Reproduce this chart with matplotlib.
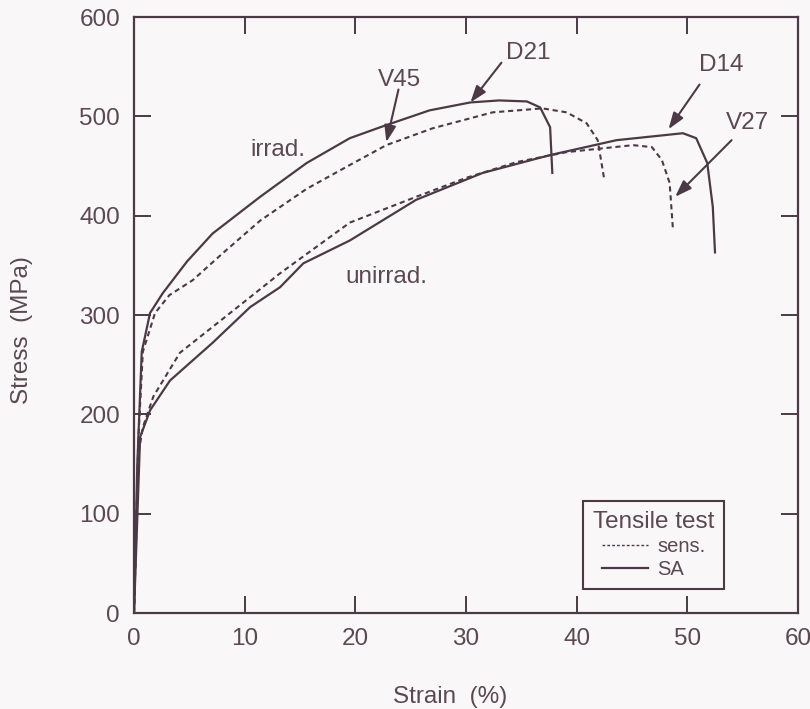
import matplotlib
matplotlib.use("Agg")
import matplotlib.pyplot as plt
from matplotlib.lines import Line2D

plt.rcParams['font.family'] = ['Liberation Sans', 'DejaVu Sans']

# stress-strain curves, strain in %, stress in MPa
# irradiated, SA (D21)
irr_sa_x = [0, 0.3, 0.7, 1.45, 2.6, 4.8, 7.1, 11.4, 15.6, 19.5, 22.5, 26.7, 30.4, 33.0, 35.5, 36.7, 37.6, 37.8]
irr_sa_y = [0, 150, 263, 302, 322, 354, 382, 419, 453, 478, 490, 506, 514, 516, 515, 509, 489, 443]
# irradiated, sensitized (V45)
irr_sens_x = [0, 0.4, 0.8, 1.9, 3.2, 5.3, 8.0, 11.4, 15.6, 19.5, 22.8, 27.0, 32.4, 36.9, 39.1, 40.9, 41.9, 42.5]
irr_sens_y = [0, 177, 263, 302, 320, 335, 362, 395, 427, 451, 471, 488, 504, 508, 504, 493, 476, 436]
# unirradiated, sensitized (V27)
unirr_sens_x = [0, 0.4, 0.8, 1.75, 4.15, 7.1, 10.5, 13.2, 19.5, 25.5, 30.0, 34.6, 39.1, 45.1, 46.8, 47.7, 48.4, 48.7]
unirr_sens_y = [0, 160, 187, 218, 262, 288, 318, 342, 393, 419, 438, 454, 464, 471, 469, 456, 433, 386]
# unirradiated, SA (D14)
unirr_sa_x = [0, 0.55, 1.45, 3.25, 7.1, 10.5, 13.2, 15.3, 19.5, 25.5, 31.5, 37.6, 43.6, 49.6, 50.8, 51.8, 52.3, 52.5]
unirr_sa_y = [0, 177, 204, 234, 272, 308, 328, 352, 375, 416, 443, 461, 476, 483, 478, 453, 409, 363]

# specimen labels: text position, arrow tail, arrow head
spec_names = ['D21', 'V45', 'D14', 'V27']
spec_text = [(35.6, 564), (24.0, 537), (53.1, 552), (55.4, 493)]
spec_tail = [(33.2, 554), (23.9, 527), (51.1, 532), (54.0, 476)]
spec_head = [(30.4, 514), (22.8, 474), (48.3, 487), (48.9, 419)]

x_ticks = [0, 10, 20, 30, 40, 50, 60]
y_ticks = [0, 100, 200, 300, 400, 500, 600]

ink = '#4b3a45'
txt = '#5a4852'
bg = '#faf7f9'
dash = (0, (2.5, 1.8))
fs = 17.5

fig = plt.figure(figsize=(8.10, 7.09), dpi=100, facecolor=bg)
ax = fig.add_axes([134/810, 1-613/709, 664/810, 596/709], facecolor=bg)

ax.plot(irr_sa_x, irr_sa_y, color=ink, lw=1.6)
ax.plot(irr_sens_x, irr_sens_y, color=ink, lw=1.5, ls=dash)
ax.plot(unirr_sens_x, unirr_sens_y, color=ink, lw=1.5, ls=dash)
ax.plot(unirr_sa_x, unirr_sa_y, color=ink, lw=1.6)

for name, t, a, b in zip(spec_names, spec_text, spec_tail, spec_head):
    ax.text(t[0], t[1], name, ha='center', va='center', fontsize=fs, color=txt)
    ax.annotate('', xy=b, xytext=a,
                arrowprops=dict(arrowstyle='-|>,head_length=1.0,head_width=0.35',
                                color=ink, lw=1.5, shrinkA=0, shrinkB=0))

ax.text(13.0, 466, 'irrad.', ha='center', va='center', fontsize=fs, color=txt)
ax.text(22.8, 338, 'unirrad.', ha='center', va='center', fontsize=fs, color=txt)

ax.set_xlim(0, 60)
ax.set_ylim(0, 600)
ax.set_xticks(x_ticks)
ax.set_yticks(y_ticks)
ax.tick_params(direction='in', length=12, width=1.4, colors=ink, labelcolor=txt,
               labelsize=fs, top=True, right=True)
ax.tick_params(axis='x', pad=11)
ax.tick_params(axis='y', pad=10)
for s in ax.spines.values():
    s.set_color(ink)
    s.set_linewidth(1.6)

handles = [Line2D([], [], color=ink, lw=1.0, ls=(0, (2, 1.5))),
           Line2D([], [], color=ink, lw=1.6)]
leg = ax.legend(handles, ['sens.', 'SA'], title='Tensile test', loc='lower left',
                bbox_to_anchor=(0.676, 0.040), fontsize=14.5, title_fontsize=fs,
                alignment='center', frameon=True, fancybox=False, edgecolor=ink,
                facecolor=bg, framealpha=1, handlelength=2.3, handletextpad=0.45,
                borderpad=0.5, labelspacing=0.2, borderaxespad=0)
leg.get_frame().set_linewidth(1.5)
leg.get_title().set_color(txt)
for t in leg.get_texts():
    t.set_color(txt)

fig.text(450/810, 1-697/709, 'Strain  (%)', ha='center', va='center', fontsize=fs, color=txt)
fig.text(22/810, 1-330/709, 'Stress  (MPa)', ha='center', va='center', rotation=90,
         fontsize=fs, color=txt)

fig.savefig('out.png', dpi=100, facecolor=bg)
